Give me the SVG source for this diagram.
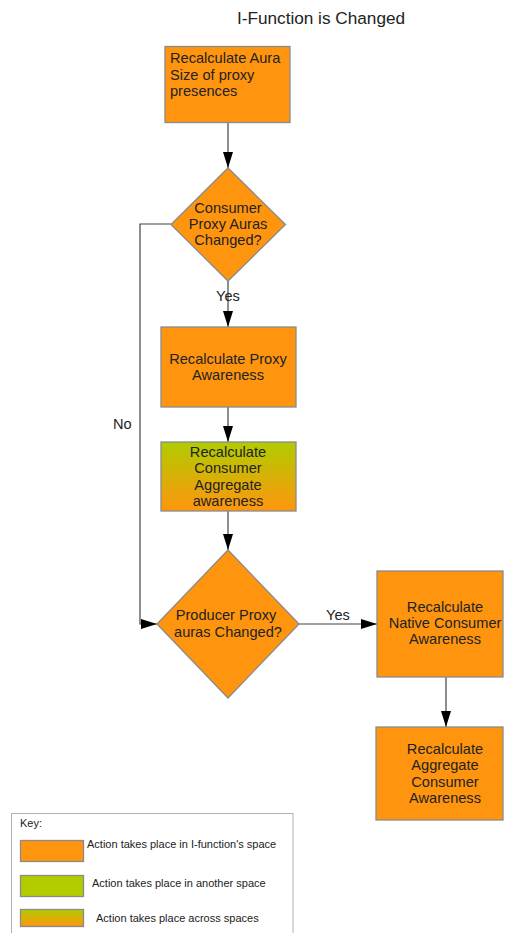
<svg xmlns="http://www.w3.org/2000/svg" width="506" height="933" viewBox="0 0 506 933">
  <style>
    .box { fill: #ff950e; stroke: #8a8a8a; stroke-width: 1.3; }
    .mixed { fill: url(#across); stroke: #8a8a8a; stroke-width: 1.3; }
    .green { fill: #b2cc00; stroke: #8a8a8a; stroke-width: 1.3; }
    .t { font-family: "Liberation Sans", Arial, sans-serif; font-size: 14.6px; fill: #222; }
    .c { text-anchor: middle; }
    .key { font-family: "Liberation Sans", Arial, sans-serif; font-size: 11px; fill: #222; }
    .conn { fill: none; stroke: #444; stroke-width: 1.2; }
    .conn-arrow { fill: none; stroke: #444; stroke-width: 1.2; marker-end: url(#head); }
  </style>
  <defs>
    <linearGradient id="across" x1="0" y1="0" x2="0" y2="1">
      <stop offset="0" stop-color="#b0cc00"/>
      <stop offset="1" stop-color="#ff950e"/>
    </linearGradient>
    <marker id="head" viewBox="0 0 16 10" refX="16" refY="5" markerWidth="16" markerHeight="10" markerUnits="userSpaceOnUse" orient="auto">
      <path d="M0,0 L16,5 L0,10 Z" fill="#000"/>
    </marker>
  </defs>

  <rect width="506" height="933" fill="#fff"/>

  <text class="t c" x="321" y="24" style="font-size:17.2px">I-Function is Changed</text>

  <g id="connectors">
    <path class="conn-arrow" d="M228,122 V168"/>
    <path class="conn-arrow" d="M228,281 V327"/>
    <path class="conn-arrow" d="M228,407 V442"/>
    <path class="conn-arrow" d="M228,511 V550"/>
    <path class="conn-arrow" d="M171,224 H140 V624 H157"/>
    <path class="conn-arrow" d="M299,624 H377"/>
    <path class="conn-arrow" d="M446,677 V727"/>
    <text class="t c" x="228" y="301">Yes</text>
    <text class="t" x="113" y="429">No</text>
    <text class="t c" x="338" y="620">Yes</text>
  </g>

  <g id="recalc-aura">
    <rect class="box" x="165" y="46.5" width="125" height="76"/>
    <text class="t" x="170" y="63">Recalculate Aura</text>
    <text class="t" x="170" y="80">Size of proxy</text>
    <text class="t" x="170" y="96">presences</text>
  </g>

  <g id="consumer-auras-changed">
    <path class="box" d="M228,168 L285.5,224.5 L228,281 L171,224.5 Z"/>
    <text class="t c" x="228" y="213">Consumer</text>
    <text class="t c" x="228" y="229">Proxy Auras</text>
    <text class="t c" x="228" y="245">Changed?</text>
  </g>

  <g id="recalc-proxy">
    <rect class="box" x="161" y="327" width="135" height="80"/>
    <text class="t c" x="228" y="364">Recalculate Proxy</text>
    <text class="t c" x="228" y="380">Awareness</text>
  </g>

  <g id="recalc-consumer-aggregate">
    <rect class="mixed" x="161" y="442" width="135" height="69"/>
    <text class="t c" x="228" y="457">Recalculate</text>
    <text class="t c" x="228" y="473">Consumer</text>
    <text class="t c" x="228" y="490">Aggregate</text>
    <text class="t c" x="228" y="506"> awareness</text>
  </g>

  <g id="producer-auras-changed">
    <path class="box" d="M228,550 L299,624 L228,698 L157,624 Z"/>
    <text class="t c" x="226" y="620">Producer Proxy</text>
    <text class="t c" x="228" y="637">auras Changed?</text>
  </g>

  <g id="recalc-native">
    <rect class="box" x="377" y="571" width="126" height="106"/>
    <text class="t c" x="445" y="612">Recalculate</text>
    <text class="t c" x="445" y="628">Native Consumer</text>
    <text class="t c" x="445" y="644">Awareness</text>
  </g>

  <g id="recalc-aggregate">
    <rect class="box" x="376" y="727" width="127" height="93"/>
    <text class="t c" x="445" y="754">Recalculate</text>
    <text class="t c" x="445" y="770">Aggregate</text>
    <text class="t c" x="445" y="787">Consumer</text>
    <text class="t c" x="445" y="803">Awareness</text>
  </g>

  <g id="key">
    <rect x="11.5" y="813.5" width="281.5" height="125" fill="#fff" stroke="#b0b0b0" stroke-width="1"/>
    <text class="key" x="20" y="827">Key:</text>
    <rect class="box" x="20.5" y="840.5" width="63" height="21"/>
    <text class="key" x="87" y="848">Action takes place in I-function's space</text>
    <rect class="green" x="20.5" y="875.5" width="63" height="21"/>
    <text class="key" x="92" y="887">Action takes place in another space</text>
    <rect class="mixed" x="20.5" y="909.5" width="63" height="17"/>
    <text class="key" x="96" y="922">Action takes place across spaces</text>
  </g>
</svg>
